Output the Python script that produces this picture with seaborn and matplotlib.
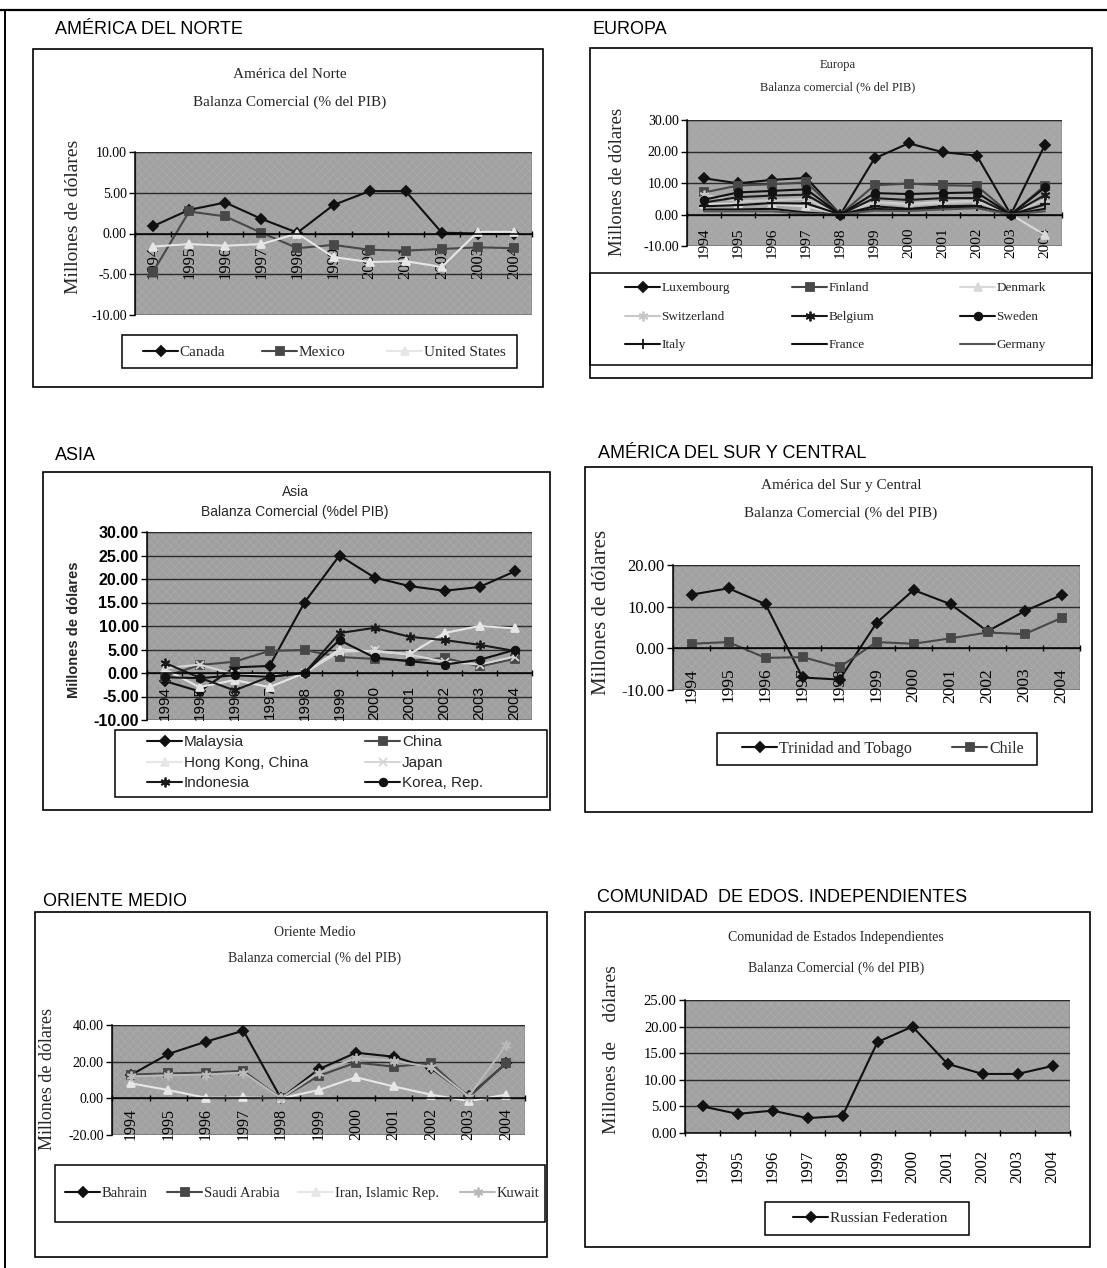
import numpy as np
import pandas as pd
import matplotlib
matplotlib.use("Agg")
import matplotlib.pyplot as plt
import seaborn as sns
from matplotlib.lines import Line2D
from matplotlib.legend import Legend
from matplotlib.patches import Rectangle
from matplotlib.ticker import FormatStrFormatter, MultipleLocator, FixedLocator

years = ["1994", "1995", "1996", "1997", "1998", "1999", "2000", "2001", "2002", "2003", "2004"]

# América del Norte
canada = [0.9, 2.9, 3.8, 1.8, 0.1, 3.5, 5.2, 5.2, 0.1, 0.0, 0.0]
mexico = [-4.7, 2.7, 2.1, 0.1, -1.8, -1.4, -2.0, -2.1, -1.9, -1.7, -1.8]
united_states = [-1.6, -1.3, -1.5, -1.3, 0.0, -2.9, -3.5, -3.4, -4.1, 0.2, 0.2]

# Europa
luxembourg = [11.5, 9.9, 11.0, 11.6, 0.0, 17.8, 22.6, 19.8, 18.7, 0.0, 22.1]
finland = [7.0, 9.2, 9.6, 10.2, 0.0, 9.3, 9.8, 9.3, 9.1, 0.0, 9.2]
denmark = [3.2, 3.5, 3.2, 2.6, 0.0, 4.0, 3.3, 4.0, 4.3, 0.0, -6.5]
switzerland = [6.3, 4.2, 4.5, 5.0, 0.0, 3.8, 3.0, 3.6, 4.2, 0.0, 4.8]
belgium = [3.8, 5.5, 6.0, 6.3, 0.0, 5.2, 4.6, 5.2, 5.2, 0.0, 6.2]
sweden = [4.7, 7.0, 7.5, 8.0, 0.0, 6.8, 6.5, 6.8, 7.0, 0.0, 8.6]
italy = [2.6, 3.0, 3.6, 3.5, 0.0, 2.6, 1.8, 2.6, 2.8, 0.0, 3.2]
france = [1.6, 1.6, 1.8, 0.6, 0.0, 1.8, 1.4, 2.0, 2.4, 0.0, 1.8]
germany = [1.0, 1.0, 1.0, 0.2, 0.0, 1.2, 1.1, 1.6, 2.0, 0.0, 1.0]

# Asia
malaysia = [-1.7, -3.9, 1.2, 1.5, 15.0, 25.0, 20.3, 18.5, 17.5, 18.3, 21.6]
china = [-0.8, 1.7, 2.4, 4.7, 4.9, 3.4, 3.0, 2.6, 3.2, 1.4, 3.0]
hong_kong = [0.8, -3.0, -1.5, -3.0, 0.0, 5.0, 4.6, 4.0, 8.5, 10.0, 9.5]
japan = [1.0, 1.8, -0.3, -0.6, 0.0, 4.5, 4.8, 3.9, 2.4, 1.8, 3.5]
indonesia = [2.2, -1.0, -3.7, -0.8, 0.0, 8.5, 9.6, 7.7, 7.0, 6.0, 4.7]
korea = [-0.9, -1.1, -0.5, -0.8, 0.0, 7.0, 3.3, 2.5, 1.8, 2.8, 4.9]

# América del Sur y Central
trinidad_tobago = [12.9, 14.4, 10.6, -7.0, -7.5, 6.1, 14.0, 10.6, 4.1, 8.9, 12.8]
chile = [1.1, 1.5, -2.3, -2.1, -4.5, 1.5, 1.1, 2.4, 3.8, 3.4, 7.3]

# Oriente Medio
bahrain = [12.7, 24.2, 30.9, 36.9, 0.0, 15.8, 24.9, 22.7, 16.4, 1.2, 19.1]
saudi_arabia = [13.0, 13.6, 14.0, 15.0, 0.0, 12.2, 19.5, 17.3, 19.1, 0.5, 19.5]
iran = [8.2, 4.5, 0.3, 0.5, 0.0, 4.5, 11.5, 6.5, 2.0, -1.5, 2.0]
kuwait = [12.0, 12.5, 13.0, 14.0, 0.0, 14.0, 22.0, 20.5, 17.0, 1.0, 29.0]

# Comunidad de Estados Independientes
russia = [5.0, 3.6, 4.2, 2.8, 3.2, 17.1, 20.0, 13.0, 11.1, 11.1, 12.6]

sns.set_theme(style="white")
SERIF = ["Liberation Serif", "DejaVu Serif"]
SANS = ["Liberation Sans", "DejaVu Sans"]
plt.rcParams["font.family"] = SERIF
plt.rcParams["hatch.linewidth"] = 0.45

W, H = 1107, 1268
fig = plt.figure(figsize=(W / 100, H / 100), dpi=100)
fig.patch.set_facecolor("white")


def fbox(x0, y0, x1, y1):
    return (x0 / W, 1 - y1 / H, (x1 - x0) / W, (y1 - y0) / H)


def frame(x0, y0, x1, y1, lw=1.2, color="black"):
    fig.add_artist(Rectangle((x0 / W, 1 - y1 / H), (x1 - x0) / W, (y1 - y0) / H,
                             transform=fig.transFigure, fill=False, ec=color, lw=lw))


def ftext(x, y, s, **kw):
    fig.text(x / W, 1 - y / H, s, **kw)


# line styles used across the panels
BLACK_D = dict(color="#111111", marker="D", ms=5.5)
GRAY_S = dict(color="#484848", marker="s", ms=5.5)
LIGHT_T = dict(color="#e6e6e6", marker="^", ms=6)
LIGHT_AST = dict(color="#c8c8c8", marker=(6, 2, 0), ms=7)
BLACK_AST = dict(color="#1a1a1a", marker=(6, 2, 0), ms=7)
BLACK_O = dict(color="#111111", marker="o", ms=5.5)
BLACK_PLUS = dict(color="#111111", marker="+", ms=7)
BLACK_LINE = dict(color="#111111", marker=None, ms=0)
GRAY_LINE = dict(color="#555555", marker=None, ms=0)
LIGHT_X = dict(color="#d6d6d6", marker="x", ms=6)


def draw_series(ax, values, color, marker, ms, lw=1.5, ls="-"):
    df = pd.DataFrame({"pos": np.arange(len(years)), "valor": values})
    kws = dict(color=color, linewidth=lw, linestyle=ls)
    if marker is not None:
        kws.update(marker=marker, markersize=ms, markeredgecolor=color,
                   markerfacecolor=color, markeredgewidth=1.3)
    sns.lineplot(data=df, x="pos", y="valor", ax=ax, legend=False, **kws)


def panel(rect, series, ylim, step, ytick_size, xtick_size, pad,
          family=SERIF, weight="normal", bg="#a1a1a1"):
    ax = fig.add_axes(fbox(*rect))
    ax.set_facecolor(bg)
    # fine crosshatched fill of the plot area
    ax.add_patch(Rectangle((0, 0), 1, 1, transform=ax.transAxes, facecolor="none",
                           edgecolor="#acacac", hatch="xxxx", lw=0, zorder=0.2))
    for vals, st in series:
        draw_series(ax, vals, **st)
    ax.set_xlim(-0.5, len(years) - 0.5)
    ax.set_ylim(*ylim)
    ax.set_xlabel("")
    ax.set_ylabel("")
    ax.yaxis.set_major_locator(MultipleLocator(step))
    ax.yaxis.set_major_formatter(FormatStrFormatter("%.2f"))
    ax.grid(axis="y", color="#2a2a2a", lw=1.0)
    ax.grid(axis="x", visible=False)
    ax.set_axisbelow(True)
    for s in ["top", "right"]:
        ax.spines[s].set_visible(False)
    ax.spines["left"].set_color("black")
    ax.spines["left"].set_linewidth(1.1)
    ax.spines["bottom"].set_position(("data", 0))
    ax.spines["bottom"].set_color("black")
    ax.spines["bottom"].set_linewidth(1.1)
    ax.add_patch(Rectangle((0, 0), 1, 1, transform=ax.transAxes, fill=False,
                           ec="#5a5a5a", lw=1.0, zorder=0.5))
    ax.set_xticks(range(len(years)))
    ax.set_xticklabels(years, rotation=90, fontsize=xtick_size, family=family)
    ax.xaxis.set_minor_locator(FixedLocator(np.arange(-0.5, len(years), 1)))
    ax.tick_params(axis="x", which="major", length=0, pad=pad, colors="black")
    ax.tick_params(axis="x", which="minor", length=4, width=1, direction="inout",
                   color="black", bottom=True)
    ax.tick_params(axis="y", length=4, width=1, direction="out", color="black",
                   left=True, pad=2, labelsize=ytick_size)
    for lab in ax.get_yticklabels():
        lab.set_family(family)
        lab.set_fontweight(weight)
        lab.set_color("black")
    return ax


def legend_box(ax, rect, entries, positions, size, family=SERIF, handle_px=35):
    """Framed legend; each entry is anchored at its own (x, y) pixel spot."""
    frame(*rect, lw=1.1)
    fs_px = size * 100 / 72
    for (name, st), (x, y) in zip(entries, positions):
        h = Line2D([], [], color=st["color"], lw=1.5, marker=st["marker"],
                   markersize=st["ms"], markeredgecolor=st["color"],
                   markerfacecolor=st["color"], markeredgewidth=1.3)
        leg = Legend(ax, [h], [name], loc="center left",
                     bbox_to_anchor=(x / W, 1 - y / H), bbox_transform=fig.transFigure,
                     frameon=False, prop=dict(family=family, size=size),
                     handlelength=handle_px / fs_px, handletextpad=0.12,
                     borderpad=0, borderaxespad=0)
        ax.add_artist(leg)


# page frame
fig.add_artist(Line2D([0, 1], [1 - 10 / H] * 2, transform=fig.transFigure, color="black", lw=1.6))
fig.add_artist(Line2D([5 / W] * 2, [1 - 10 / H, 0], transform=fig.transFigure, color="black", lw=1.4))

HEAD = dict(family=SANS, size=13, va="center", ha="left", color="black")

# ---------------- América del Norte ----------------
ftext(55, 29, "AMÉRICA DEL NORTE", **HEAD)
frame(33, 49, 543, 387)
ftext(290, 75, "América del Norte", family=SERIF, size=11, ha="center", va="center")
ftext(290, 102, "Balanza Comercial (% del PIB)", family=SERIF, size=11, ha="center", va="center")
ftext(74, 217, "Millones de dólares", family=SERIF, size=14, rotation=90, ha="center", va="center")
na_series = [("Canada", canada, BLACK_D), ("Mexico", mexico, GRAY_S),
             ("United States", united_states, LIGHT_T)]
ax = panel((135, 152, 532, 315), [(v, s) for _, v, s in na_series], (-10, 10), 5,
           10, 12, 9)
legend_box(ax, (122, 335, 517, 368), [(n, s) for n, _, s in na_series],
           [(143, 352), (262, 352), (387, 352)], 11)

# ---------------- Europa ----------------
ftext(592, 29, "EUROPA", **HEAD)
frame(590, 48, 1092, 378)
ftext(838, 65, "Europa", family=SERIF, size=9, ha="center", va="center")
ftext(838, 87, "Balanza comercial (% del PIB)", family=SERIF, size=9, ha="center", va="center")
ftext(618, 182, "Millones de dólares", family=SERIF, size=13.5, rotation=90, ha="center", va="center")
eu_series = [("Luxembourg", luxembourg, BLACK_D), ("Finland", finland, GRAY_S),
             ("Denmark", denmark, dict(color="#d9d9d9", marker="^", ms=6)),
             ("Switzerland", switzerland, LIGHT_AST), ("Belgium", belgium, BLACK_AST),
             ("Sweden", sweden, BLACK_O), ("Italy", italy, BLACK_PLUS),
             ("France", france, BLACK_LINE), ("Germany", germany, GRAY_LINE)]
ax = panel((687, 120, 1062, 246), [(v, s) for _, v, s in eu_series], (-10, 30), 10,
           10, 11, 9, bg="#a6a6a6")
eu_pos = [(x, y) for y in (288, 317, 345) for x in (625, 792, 960)]
legend_box(ax, (590, 273, 1092, 365), [(n, s) for n, _, s in eu_series], eu_pos, 9.5)

# ---------------- Asia ----------------
ftext(55, 456, "ASIA", **HEAD)
frame(43, 472, 550, 810)
ftext(295, 492, "Asia", family=SANS, size=10, ha="center", va="center")
ftext(295, 512, "Balanza Comercial (%del PIB)", family=SANS, size=10, ha="center", va="center")
ftext(74, 630, "Millones de dólares", family=SANS, size=10.5, weight="bold", rotation=90,
      ha="center", va="center")
as_series = [("Malaysia", malaysia, BLACK_D), ("China", china, GRAY_S),
             ("Hong Kong, China", hong_kong, LIGHT_T), ("Japan", japan, LIGHT_X),
             ("Indonesia", indonesia, BLACK_AST), ("Korea, Rep.", korea, BLACK_O)]
ax = panel((147, 532, 532, 720), [(v, s) for _, v, s in as_series], (-10, 30), 5,
           11.5, 11, 9, family=SANS, weight="bold", bg="#9f9f9f")
as_pos = [(x, y) for y in (742, 763, 783) for x in (147, 365)]
legend_box(ax, (115, 730, 547, 797), [(n, s) for n, _, s in as_series], as_pos, 11,
           family=SANS)

# ---------------- América del Sur y Central ----------------
ftext(598, 453, "AMÉRICA DEL SUR Y CENTRAL", **HEAD)
frame(585, 467, 1092, 812)
ftext(841, 485, "América del Sur y Central", family=SERIF, size=11, ha="center", va="center")
ftext(841, 513, "Balanza Comercial (% del PIB)", family=SERIF, size=11, ha="center", va="center")
ftext(602, 612, "Millones de dólares", family=SERIF, size=15, rotation=90, ha="center", va="center")
sa_series = [("Trinidad and Tobago", trinidad_tobago, BLACK_D), ("Chile", chile, GRAY_S)]
ax = panel((673, 565, 1080, 690), [(v, s) for _, v, s in sa_series], (-10, 20), 10,
           12, 12.5, 14)
legend_box(ax, (717, 733, 1037, 765), [(n, s) for n, _, s in sa_series],
           [(742, 749), (952, 749)], 11.5)

# ---------------- Oriente Medio ----------------
ftext(43, 901, "ORIENTE MEDIO", **HEAD)
frame(35, 912, 547, 1257)
ftext(315, 933, "Oriente Medio", family=SERIF, size=10, ha="center", va="center")
ftext(315, 958, "Balanza comercial (% del PIB)", family=SERIF, size=10, ha="center", va="center")
ftext(48, 1079, "Millones de dólares", family=SERIF, size=13, rotation=90, ha="center", va="center")
me_series = [("Bahrain", bahrain, BLACK_D), ("Saudi Arabia", saudi_arabia, GRAY_S),
             ("Iran, Islamic Rep.", iran, LIGHT_T),
             ("Kuwait", kuwait, dict(color="#b9b9b9", marker=(6, 2, 0), ms=7))]
ax = panel((112, 1025, 525, 1135), [(v, s) for _, v, s in me_series], (-20, 40), 20,
           10, 11.5, 7)
legend_box(ax, (55, 1165, 545, 1222), [(n, s) for n, _, s in me_series],
           [(65, 1193), (167, 1193), (298, 1193), (460, 1193)], 10.5)

# ---------------- Comunidad de Estados Independientes ----------------
ftext(597, 898, "COMUNIDAD  DE EDOS. INDEPENDIENTES", **HEAD)
frame(585, 912, 1090, 1247)
ftext(836, 938, "Comunidad de Estados Independientes", family=SERIF, size=10, ha="center", va="center")
ftext(836, 968, "Balanza Comercial (% del PIB)", family=SERIF, size=10, ha="center", va="center")
ftext(611, 1050, "Millones de    dólares", family=SERIF, size=14, rotation=90, ha="center", va="center")
cis_series = [("Russian Federation", russia, BLACK_D)]
ax = panel((685, 1000, 1070, 1133), [(v, s) for _, v, s in cis_series], (0, 25), 5,
           10.5, 12, 12)
legend_box(ax, (765, 1202, 969, 1235), [(n, s) for n, _, s in cis_series],
           [(793, 1218)], 11)

fig.savefig("out.png", dpi=100, facecolor="white")
